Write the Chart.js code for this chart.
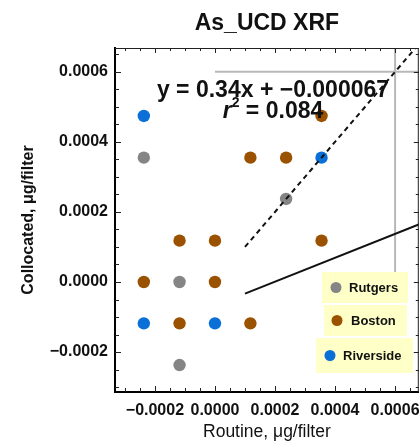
<!DOCTYPE html>
<html>
<head>
<meta charset="utf-8">
<script src="https://cdn.jsdelivr.net/npm/chart.js@4/dist/chart.umd.min.js"></script>
<style>
    html, body { margin: 0; padding: 0; background: #fff; overflow: hidden; }
    #wrap { position: relative; width: 425px; height: 443px; }
</style>
</head>
<body>
<div id="wrap"><canvas id="chart" width="425" height="443"></canvas></div>
<script>
(function () {
    'use strict';

    // Sites and their colours
    var SITES = ['Rutgers', 'Boston', 'Riverside'];
    var SITE_COLORS = ['#858585', '#9a5200', '#0a6fd6'];

    // Routine (x) / collocated (y) values, ug/filter
    var RUTGERS_X = [-0.000237, 0.000237, -0.000118, -0.000118];
    var RUTGERS_Y = [0.000355, 0.000237, 0.0, -0.000237];

    var BOSTON_X = [0.000355, 0.000118, 0.000237, -0.000118, 0.0, 0.000355, -0.000237, 0.0, -0.000118, 0.000118];
    var BOSTON_Y = [0.000474, 0.000355, 0.000355, 0.000118, 0.000118, 0.000118, 0.0, 0.0, -0.000118, -0.000118];

    var RIVERSIDE_X = [-0.000237, 0.000355, -0.000237, 0.0];
    var RIVERSIDE_Y = [0.000474, 0.000355, -0.000118, -0.000118];

    // Fit line, 1:1 line and the 0.0006 guide lines
    var FIT_X = [0.0001, 0.00069];
    var FIT_Y = [-0.000033, 0.000168];
    var ONE_TO_ONE_X = [0.0001, 0.00069];
    var ONE_TO_ONE_Y = [0.0001, 0.00069];
    var GUIDE_VALUE = 0.0006;

    var FIT_LABEL = 'y = 0.34x + \u22120.000067';
    var R2_LABEL = ' = 0.084';

    // Axes
    var X_MIN = -0.000333, X_MAX = 0.000679;
    var Y_MIN = -0.000314, Y_MAX = 0.000668;
    var X_TICKS = [-0.0002, 0.0, 0.0002, 0.0004, 0.0006];
    var X_TICK_LABELS = ['\u22120.0002', '0.0000', '0.0002', '0.0004', '0.0006'];
    var Y_TICKS = [-0.0002, 0.0, 0.0002, 0.0004, 0.0006];
    var Y_TICK_LABELS = ['\u22120.0002', '0.0000', '0.0002', '0.0004', '0.0006'];
    var MINOR_STEP = 0.00005;

    var FONT = 'Arial, "Liberation Sans", sans-serif';

    function toPoints(xs, ys) {
        return xs.map(function (x, i) { return { x: x, y: ys[i] }; });
    }

    function siteDataset(idx, xs, ys) {
        return {
            label: SITES[idx],
            data: toPoints(xs, ys),
            backgroundColor: SITE_COLORS[idx],
            borderWidth: 0,
            pointRadius: 6.2,
            pointHoverRadius: 6.2,
            order: 2,
        };
    }

    function lineDataset(points, color, width, dash) {
        return {
            type: 'line',
            data: points,
            borderColor: color,
            borderWidth: width,
            borderDash: dash || [],
            pointRadius: 0,
            fill: false,
            showLine: true,
            order: 1,
        };
    }

    // Inner frame ticks (major + minor) on all four sides, top/right frame lines
    var frameTicks = {
        id: 'frameTicks',
        afterDraw: function (chart) {
            var ctx = chart.ctx, a = chart.chartArea;
            var xs = chart.scales.x, ys = chart.scales.y;
            var i, v, p, len;
            ctx.save();
            ctx.strokeStyle = '#222';
            ctx.lineWidth = 1;
            ctx.beginPath();
            ctx.moveTo(a.left, a.top + 0.5);
            ctx.lineTo(a.right, a.top + 0.5);
            ctx.moveTo(a.right - 0.5, a.top);
            ctx.lineTo(a.right - 0.5, a.bottom);
            for (i = Math.ceil(X_MIN / MINOR_STEP); i <= Math.floor(X_MAX / MINOR_STEP); i++) {
                v = i * MINOR_STEP;
                p = Math.round(xs.getPixelForValue(v)) + 0.5;
                len = (i % 4 === 0) ? 5 : 3;
                ctx.moveTo(p, a.bottom);
                ctx.lineTo(p, a.bottom - len - 1);
                ctx.moveTo(p, a.top);
                ctx.lineTo(p, a.top + len);
            }
            for (i = Math.ceil(Y_MIN / MINOR_STEP); i <= Math.floor(Y_MAX / MINOR_STEP); i++) {
                v = i * MINOR_STEP;
                p = Math.round(ys.getPixelForValue(v)) + 0.5;
                len = (i % 4 === 0) ? 5 : 3;
                ctx.moveTo(a.left, p);
                ctx.lineTo(a.left + len + 1, p);
                ctx.moveTo(a.right, p);
                ctx.lineTo(a.right - len, p);
            }
            ctx.stroke();
            ctx.restore();
        },
    };

    // Fit equation and r^2 text
    var fitText = {
        id: 'fitText',
        afterDraw: function (chart) {
            var ctx = chart.ctx, a = chart.chartArea;
            var cx = a.left + 158;
            ctx.save();
            ctx.fillStyle = '#111';
            ctx.textBaseline = 'alphabetic';
            ctx.textAlign = 'center';
            ctx.font = 'bold 23px ' + FONT;
            ctx.fillText(FIT_LABEL, cx, a.top + 49);

            // r^2 line: italic r, superscript 2, rest
            ctx.textAlign = 'left';
            var fR = 'italic bold 23px ' + FONT;
            var fS = 'bold 14px ' + FONT;
            var fB = 'bold 23px ' + FONT;
            ctx.font = fR; var wR = ctx.measureText('r').width;
            ctx.font = fS; var wS = ctx.measureText('2').width;
            ctx.font = fB; var wB = ctx.measureText(R2_LABEL).width;
            var x0 = cx - (wR + wS + wB) / 2;
            var by = a.top + 70;
            ctx.font = fR; ctx.fillText('r', x0, by);
            ctx.font = fS; ctx.fillText('2', x0 + wR, by - 11);
            ctx.font = fB; ctx.fillText(R2_LABEL, x0 + wR + wS, by);
            ctx.restore();
        },
    };

    // Stacked yellow legend boxes
    var LEGEND_BOXES = [
        { x: 322, y: 272, w: 86, h: 31, mx: 336, tx: 349 },
        { x: 324, y: 305, w: 83, h: 31, mx: 337, tx: 351 },
        { x: 316, y: 338, w: 97, h: 35, mx: 330, tx: 343 },
    ];

    var boxLegend = {
        id: 'boxLegend',
        afterDraw: function (chart) {
            var ctx = chart.ctx;
            ctx.save();
            LEGEND_BOXES.forEach(function (b, i) {
                ctx.fillStyle = '#ffffc8';
                ctx.fillRect(b.x, b.y, b.w, b.h);
                var cy = b.y + b.h / 2;
                ctx.fillStyle = SITE_COLORS[i];
                ctx.beginPath();
                ctx.arc(b.mx, cy, 5.5, 0, Math.PI * 2);
                ctx.fill();
                ctx.fillStyle = '#111';
                ctx.font = 'bold 13px ' + FONT;
                ctx.textBaseline = 'middle';
                ctx.textAlign = 'left';
                ctx.fillText(SITES[i], b.tx, cy + 1);
            });
            ctx.restore();
        },
    };

    var canvas = document.getElementById('chart');

    new Chart(canvas, {
        type: 'scatter',
        data: {
            datasets: [
                lineDataset(toPoints(ONE_TO_ONE_X, ONE_TO_ONE_Y), '#111', 2, [5, 4]),
                lineDataset(toPoints(FIT_X, FIT_Y), '#111', 2),
                lineDataset([{ x: GUIDE_VALUE, y: 0 }, { x: GUIDE_VALUE, y: Y_MAX }], '#b8b8b8', 2),
                lineDataset([{ x: 0, y: GUIDE_VALUE }, { x: X_MAX, y: GUIDE_VALUE }], '#b8b8b8', 2),
                siteDataset(0, RUTGERS_X, RUTGERS_Y),
                siteDataset(1, BOSTON_X, BOSTON_Y),
                siteDataset(2, RIVERSIDE_X, RIVERSIDE_Y),
            ],
        },
        options: {
            responsive: false,
            animation: false,
            events: [],
            // canvas is a little wider than the window so the right frame falls outside
            layout: { padding: { left: 0, top: 0, right: 3, bottom: 0 } },
            plugins: {
                legend: { display: false },
                tooltip: { enabled: false },
                title: {
                    display: true,
                    fullSize: false,
                    text: 'As_UCD XRF',
                    color: '#111',
                    font: { family: FONT, size: 23, weight: 'bold', lineHeight: 1.2 },
                    padding: { top: 10, bottom: 10.4 },
                },
            },
            scales: {
                x: {
                    type: 'linear',
                    min: X_MIN,
                    max: X_MAX,
                    grid: { display: false, drawTicks: false, tickLength: 0 },
                    border: { display: true, color: '#000', width: 2 },
                    afterBuildTicks: function (scale) {
                        scale.ticks = X_TICKS.map(function (v) { return { value: v }; });
                    },
                    afterFit: function (scale) {
                        scale.height = 51;
                        scale.paddingLeft = 0;
                        scale.paddingRight = 0;
                    },
                    ticks: {
                        autoSkip: false,
                        maxRotation: 0,
                        padding: 9,
                        color: '#111',
                        font: { family: FONT, size: 16, weight: 'bold' },
                        callback: function (value, index) { return X_TICK_LABELS[index]; },
                    },
                    title: {
                        display: true,
                        text: 'Routine, \u03bcg/filter',
                        color: '#111',
                        font: { family: FONT, size: 17.5 },
                        padding: { top: 0, bottom: 0 },
                    },
                },
                y: {
                    type: 'linear',
                    min: Y_MIN,
                    max: Y_MAX,
                    grid: { display: false, drawTicks: false, tickLength: 0 },
                    border: { display: true, color: '#000', width: 2 },
                    afterBuildTicks: function (scale) {
                        scale.ticks = Y_TICKS.map(function (v) { return { value: v }; });
                    },
                    afterFit: function (scale) {
                        scale.width = 115;
                        scale.paddingTop = 0;
                        scale.paddingBottom = 0;
                    },
                    ticks: {
                        padding: 7,
                        color: '#111',
                        font: { family: FONT, size: 16, weight: 'bold' },
                        callback: function (value, index) { return Y_TICK_LABELS[index]; },
                    },
                    title: {
                        display: true,
                        text: 'Collocated, \u03bcg/filter',
                        color: '#111',
                        font: { family: FONT, size: 16, weight: 'bold' },
                        padding: { top: 19, bottom: 0 },
                    },
                },
            },
        },
        plugins: [frameTicks, fitText, boxLegend],
    });
})();
</script>
</body>
</html>
